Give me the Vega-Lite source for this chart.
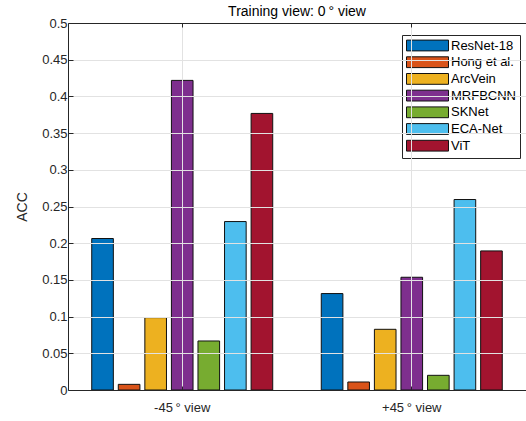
{
  "$schema": "https://vega.github.io/schema/vega-lite/v6.json",
  "width": 458,
  "height": 367,
  "autosize": {"type": "none"},
  "padding": {"left": 68, "top": 23, "right": 0, "bottom": 31},
  "title": {"text": "Training view: 0\u2009° view", "fontSize": 14, "fontWeight": "normal", "font": "Liberation Sans", "color": "#000000", "offset": -2, "anchor": "middle"},
  "config": {
    "view": {"stroke": null},
    "font": "Liberation Sans",
    "axis": {
      "labelFont": "Liberation Sans",
      "titleFont": "Liberation Sans",
      "labelFontSize": 13,
      "titleFontSize": 14,
      "titleFontWeight": "normal",
      "labelColor": "#262626",
      "titleColor": "#262626",
      "domainColor": "#262626",
      "tickColor": "#262626",
      "gridColor": "#e2e2e2",
      "domainWidth": 1,
      "tickWidth": 1
    }
  },
  "data": {
    "values": [
      {"view": "-45\u2009° view", "model": "ResNet-18", "acc": 0.2064},
      {"view": "-45\u2009° view", "model": "Hong et al.", "acc": 0.0077},
      {"view": "-45\u2009° view", "model": "ArcVein", "acc": 0.0986},
      {"view": "-45\u2009° view", "model": "MRFBCNN", "acc": 0.4218},
      {"view": "-45\u2009° view", "model": "SKNet", "acc": 0.0668},
      {"view": "-45\u2009° view", "model": "ECA-Net", "acc": 0.2295},
      {"view": "-45\u2009° view", "model": "ViT", "acc": 0.3768},
      {"view": "+45\u2009° view", "model": "ResNet-18", "acc": 0.1314},
      {"view": "+45\u2009° view", "model": "Hong et al.", "acc": 0.0109},
      {"view": "+45\u2009° view", "model": "ArcVein", "acc": 0.0827},
      {"view": "+45\u2009° view", "model": "MRFBCNN", "acc": 0.1536},
      {"view": "+45\u2009° view", "model": "SKNet", "acc": 0.0200},
      {"view": "+45\u2009° view", "model": "ECA-Net", "acc": 0.2595},
      {"view": "+45\u2009° view", "model": "ViT", "acc": 0.1895}
    ]
  },
  "layer": [
    {
      "mark": {"type": "bar", "stroke": "#111111", "strokeWidth": 1, "opacity": 1},
      "encoding": {
        "x": {
          "field": "view", "type": "nominal", "sort": ["-45\u2009° view", "+45\u2009° view"],
          "scale": {"paddingInner": 0.19, "paddingOuter": 0.0926},
          "axis": {"title": null, "orient": "bottom", "labelAngle": 0, "tickSize": -4, "labelPadding": 15, "grid": true, "zindex": 1}
        },
        "xOffset": {
          "field": "model", "type": "nominal",
          "sort": ["ResNet-18", "Hong et al.", "ArcVein", "MRFBCNN", "SKNet", "ECA-Net", "ViT"],
          "scale": {"paddingInner": 0.186, "paddingOuter": 0.093}
        },
        "y": {
          "field": "acc", "type": "quantitative",
          "scale": {"domain": [0, 0.5], "nice": false, "zero": true},
          "axis": {"title": "ACC", "values": [0, 0.05, 0.1, 0.15, 0.2, 0.25, 0.3, 0.35, 0.4, 0.45, 0.5], "format": "~g", "tickSize": -5, "labelPadding": 6, "titlePadding": 12, "grid": true, "zindex": 1}
        },
        "color": {
          "field": "model", "type": "nominal",
          "sort": ["ResNet-18", "Hong et al.", "ArcVein", "MRFBCNN", "SKNet", "ECA-Net", "ViT"],
          "scale": {
            "domain": ["ResNet-18", "Hong et al.", "ArcVein", "MRFBCNN", "SKNet", "ECA-Net", "ViT"],
            "range": ["#0072BD", "#D95319", "#EDB120", "#7E2F8E", "#77AC30", "#4DBEEE", "#A2142F"]
          },
          "legend": {
            "title": null,
            "orient": "none",
            "legendX": 334,
            "legendY": 12,
            "strokeColor": "#262626",
            "fillColor": "#ffffff",
            "padding": 4,
            "symbolType": "M-1,-0.9H6V0.9H-1Z",
            "symbolSize": 144,
            "symbolStrokeColor": "#111111",
            "symbolStrokeWidth": 1,
            "symbolOpacity": 1,
            "labelFont": "Liberation Sans",
            "labelFontSize": 13,
            "labelColor": "#000000",
            "labelOffset": 32,
            "rowPadding": 1.7
          }
        }
      }
    },
    {
      "mark": {"type": "rule", "opacity": 0},
      "encoding": {
        "x": {
          "field": "view", "type": "nominal", "sort": ["-45\u2009° view", "+45\u2009° view"],
          "axis": {"title": null, "orient": "top", "labels": false, "tickSize": -4, "grid": false, "zindex": 1}
        }
      }
    }
  ]
}
